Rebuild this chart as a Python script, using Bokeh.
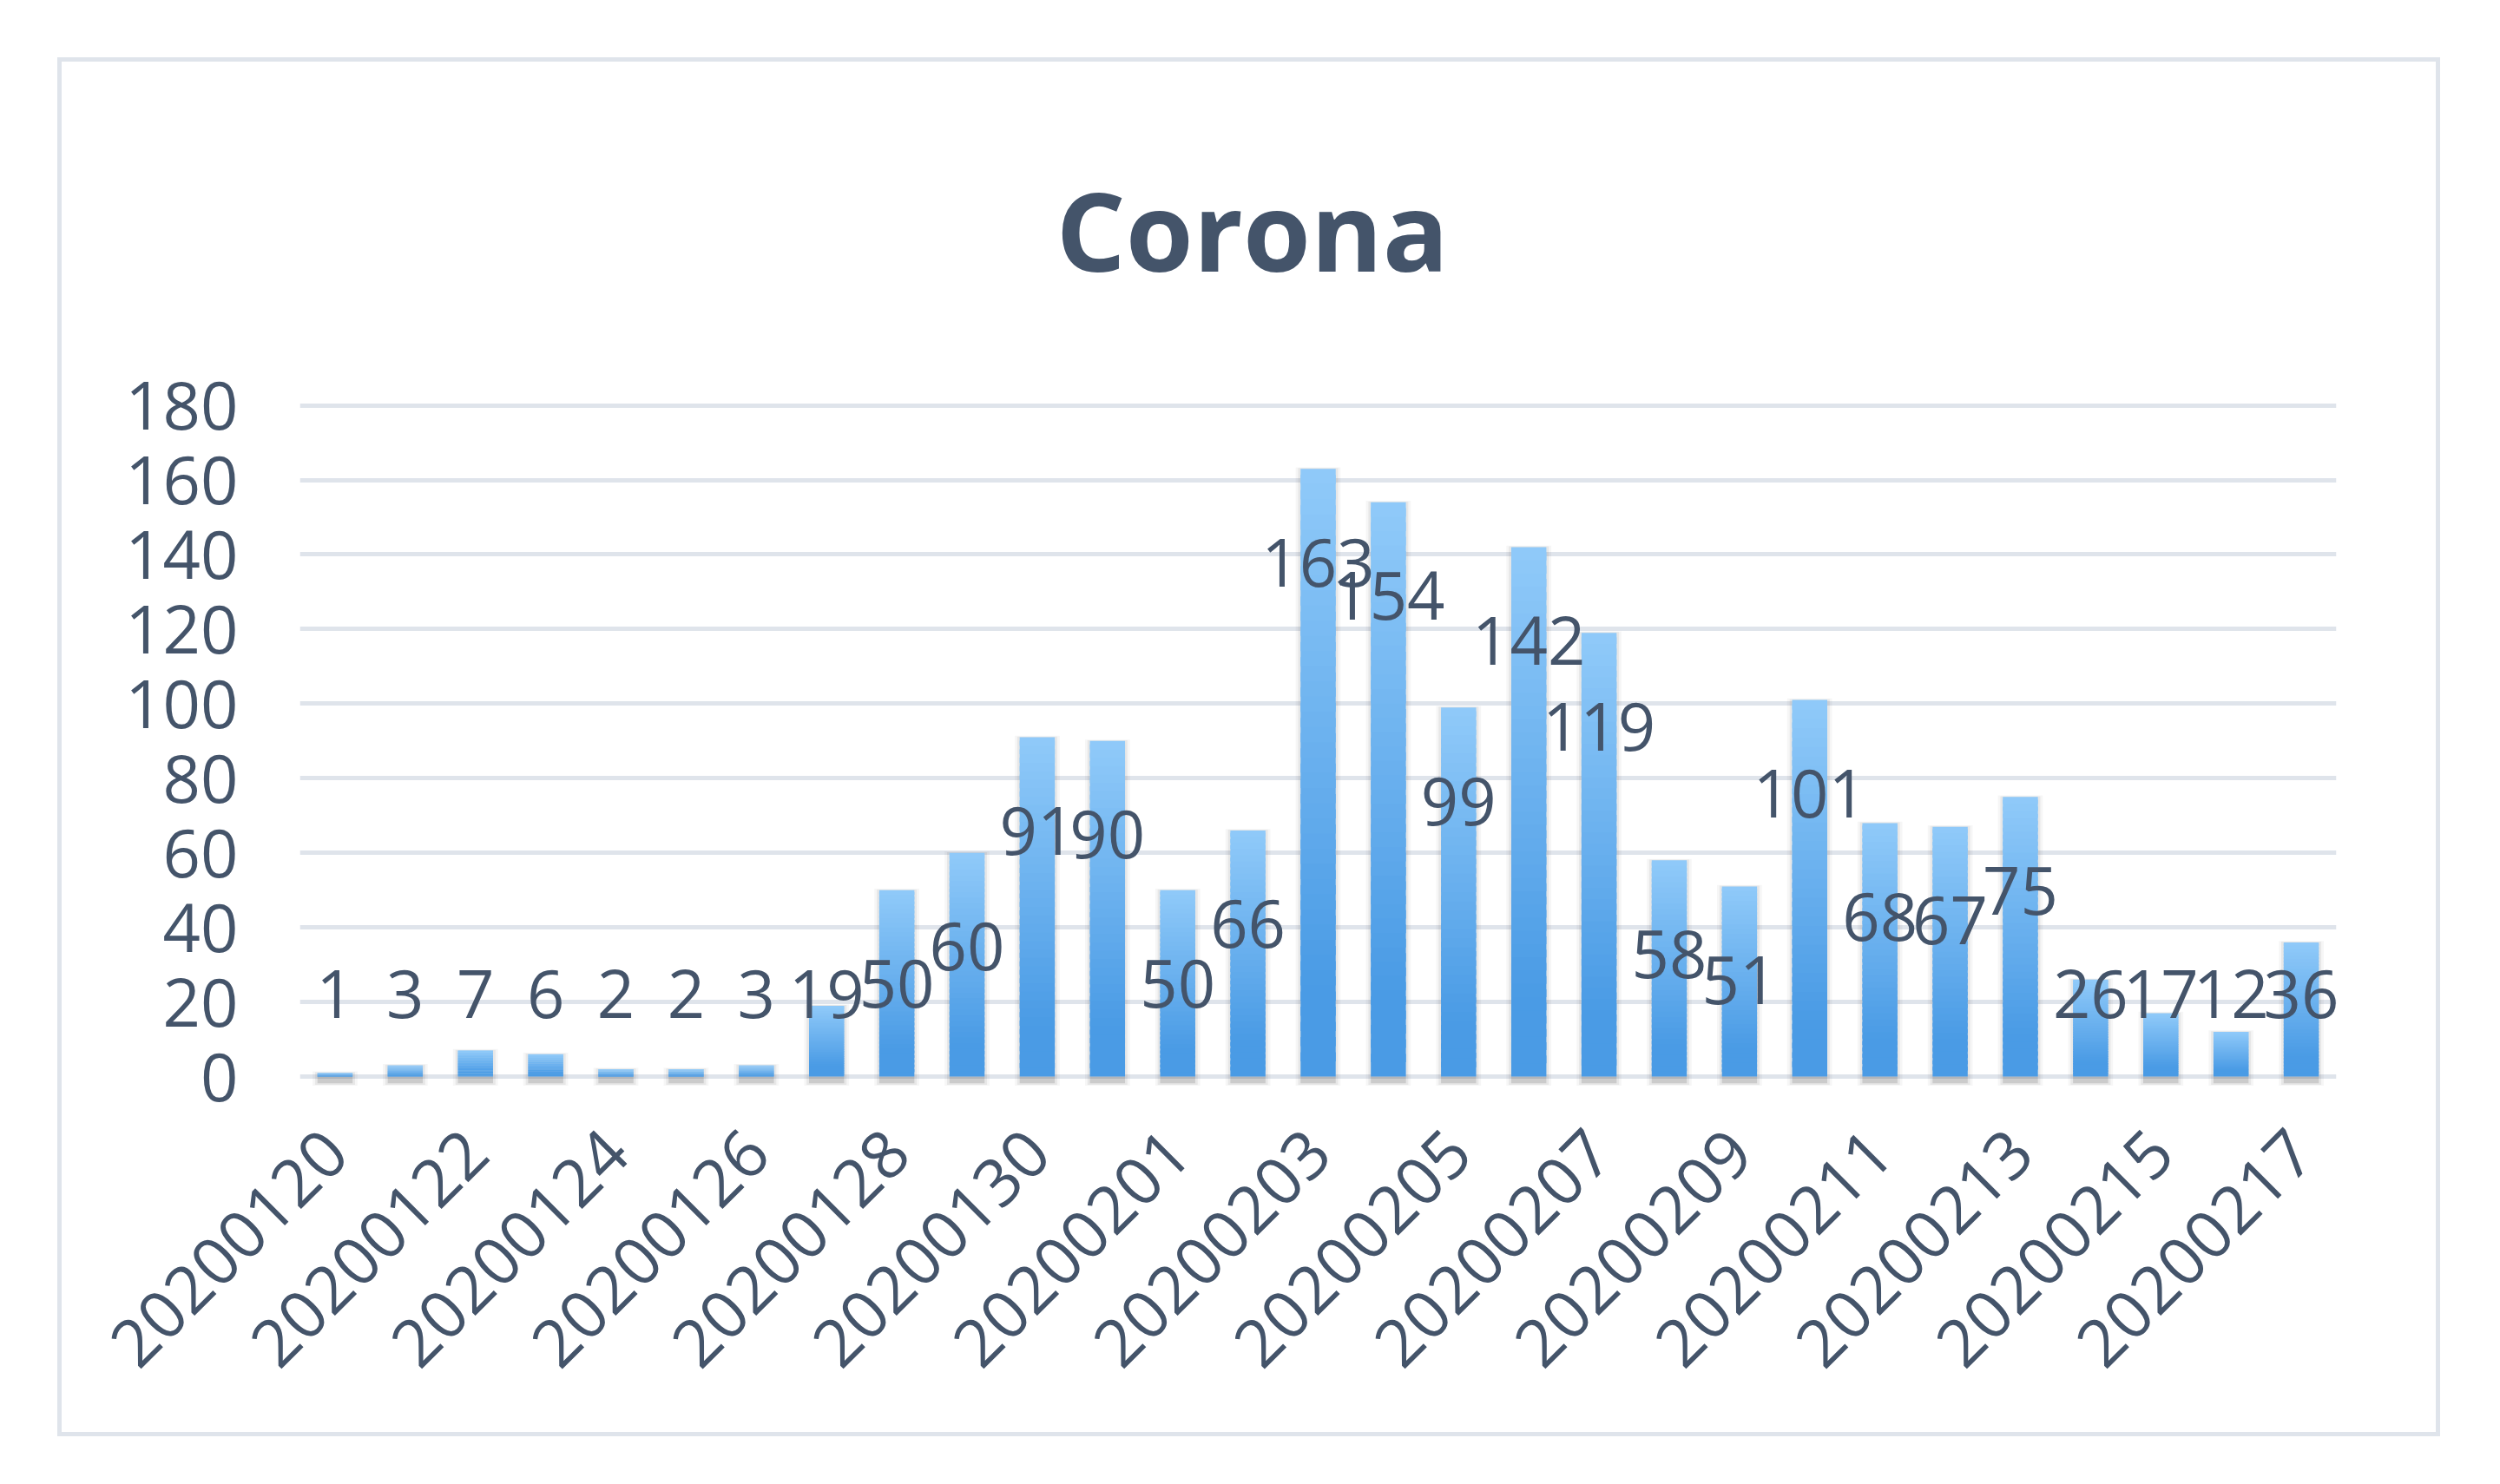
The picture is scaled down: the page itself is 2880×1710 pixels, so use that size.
import numpy as np
from bokeh.plotting import figure
from bokeh.models import ColumnDataSource, Range1d, FixedTicker
from bokeh.core.properties import value
from bokeh.embed import file_html
from bokeh.resources import INLINE

# ---- data ----
dates = ["20200120", "20200121", "20200122", "20200123", "20200124", "20200125",
         "20200126", "20200127", "20200128", "20200129", "20200130", "20200131",
         "20200201", "20200202", "20200203", "20200204", "20200205", "20200206",
         "20200207", "20200208", "20200209", "20200210", "20200211", "20200212",
         "20200213", "20200214", "20200215", "20200216", "20200217"]
cases = [1, 3, 7, 6, 2, 2, 3, 19, 50, 60, 91, 90, 50, 66, 163, 154, 99, 142,
         119, 58, 51, 101, 68, 67, 75, 26, 17, 12, 36]
y_ticks = [0, 20, 40, 60, 80, 100, 120, 140, 160, 180]
title_text = "Corona"

TEXT = "#44546a"
GRID = "#dfe4eb"
LIGHT = np.array([0x90, 0xCA, 0xF9])
DARK = np.array([0x4A, 0x9B, 0xE5])

W, H = 2735, 1579
p = figure(width=W, height=H, output_backend="svg", toolbar_location=None,
           x_range=Range1d(-0.5, len(dates) - 0.5), y_range=Range1d(-3.7, 182),
           min_border_left=274, min_border_right=115,
           min_border_top=383, min_border_bottom=394)
p.margin = (71, 0, 0, 71)
p.styles = {"outline": "5px solid " + GRID, "outline-offset": "0px"}
p.outline_line_color = None
p.background_fill_color = "white"
p.border_fill_color = "white"

# title
p.title.text = title_text
p.title.align = "left"
p.title.offset = 871
p.title.vertical_align = "top"
p.title.text_font = "Open Sans"
p.title.text_font_style = "bold"
p.title.text_font_size = "126px"
p.title.text_color = TEXT
p.title.standoff = 213

x = np.arange(len(dates))
v = np.array(cases, dtype=float)

# soft shadows
p.vbar(x=x, width=0.64, bottom=-2.4, top=v + 0.4, fill_color="black",
       fill_alpha=0.035, line_color=None)
p.vbar(x=x, width=0.57, bottom=-2.2, top=v + 0.2, fill_color="black",
       fill_alpha=0.06, line_color=None)
p.vbar(x=x, width=0.5, bottom=-1.8, top=0, fill_color="black",
       fill_alpha=0.12, line_color=None)

# gradient bars built from slices of each bar
N = 40
xs, bots, tops, cols = [], [], [], []
for i, val in enumerate(v):
    for k in range(N):
        b = val * k / N
        t = val * (k + 1.6) / N if k < N - 1 else val
        frac_from_top = 1 - (k + 0.5) / N
        f = min(frac_from_top / 0.85, 1.0)
        c = LIGHT + (DARK - LIGHT) * f
        xs.append(i)
        bots.append(b)
        tops.append(t)
        cols.append("#%02x%02x%02x" % tuple(int(round(z)) for z in c))
src = ColumnDataSource(dict(x=xs, bottom=bots, top=tops, color=cols))
p.vbar(x="x", width=0.5, bottom="bottom", top="top", fill_color="color",
       line_color=None, source=src)

# data labels (inside end)
lab_y = np.maximum(v - 25, 22.2)
lsrc = ColumnDataSource(dict(x=x, y=lab_y, t=[str(c) for c in cases]))
p.text(x="x", y="y", text="t", source=lsrc, text_align="center",
       text_baseline="middle", text_font=value("Open Sans"),
       text_font_size="76px", text_color=TEXT)

# axes
p.xgrid.visible = False
p.ygrid.grid_line_color = GRID
p.ygrid.grid_line_width = 5
p.yaxis.ticker = FixedTicker(ticks=y_ticks)
p.xaxis.ticker = FixedTicker(ticks=list(range(0, len(dates), 2)))
p.xaxis.major_label_overrides = {i: d for i, d in enumerate(dates)}
p.xaxis.major_label_orientation = np.pi / 4
for ax in (p.xaxis, p.yaxis):
    ax.axis_line_color = None
    ax.major_tick_line_color = None
    ax.minor_tick_line_color = None
    ax.major_label_text_font = "Open Sans"
    ax.major_label_text_font_size = "76px"
    ax.major_label_text_color = TEXT
p.yaxis.major_label_standoff = 65
p.xaxis.major_label_standoff = 52

open("out.html", "w").write(file_html(p, INLINE))
